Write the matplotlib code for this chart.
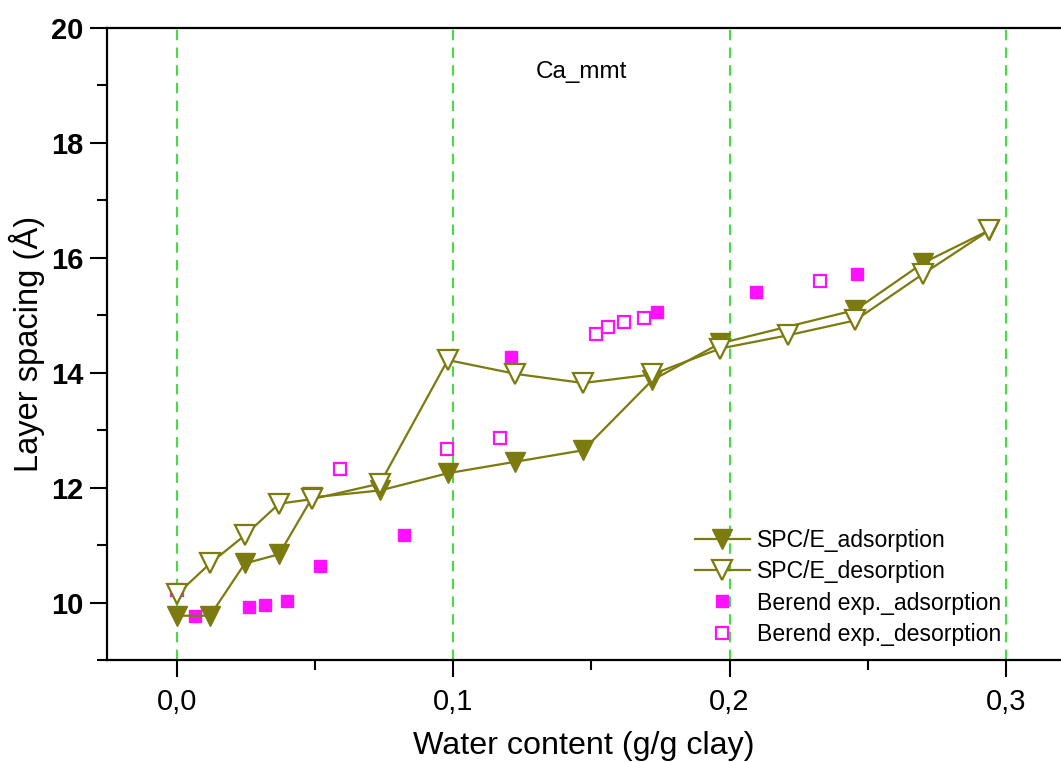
import matplotlib
matplotlib.use("Agg")
import numpy as np
import matplotlib.pyplot as plt
from matplotlib.ticker import MultipleLocator, FuncFormatter

plt.rcParams['font.family'] = ['Liberation Sans', 'DejaVu Sans']

# SPC/E simulation
ads_x = [0.0, 0.012, 0.0246, 0.037, 0.049, 0.0735, 0.098, 0.1225, 0.147, 0.172, 0.1965, 0.2454, 0.27, 0.294]
ads_y = [9.77, 9.77, 10.68, 10.84, 11.83, 11.95, 12.25, 12.45, 12.65, 13.87, 14.51, 15.09, 15.91, 16.48]
des_x = [0.0, 0.012, 0.0246, 0.037, 0.049, 0.0735, 0.098, 0.1225, 0.147, 0.172, 0.1965, 0.221, 0.2454, 0.27, 0.294]
des_y = [10.14, 10.68, 11.17, 11.72, 11.80, 12.07, 14.22, 13.98, 13.82, 13.97, 14.42, 14.65, 14.91, 15.72, 16.48]

# Berend experiments
exp_ads_x = [0.0065, 0.026, 0.0318, 0.040, 0.0518, 0.082, 0.121, 0.1737, 0.2096, 0.246]
exp_ads_y = [9.77, 9.93, 9.96, 10.03, 10.63, 11.18, 14.27, 15.05, 15.40, 15.71]
exp_des_x = [0.0, 0.059, 0.0978, 0.117, 0.1517, 0.156, 0.1618, 0.169, 0.2327]
exp_des_y = [10.22, 12.33, 12.68, 12.87, 14.67, 14.79, 14.88, 14.95, 15.59]

olive = "#7b7b0f"
magenta = "#ff10ff"

fig = plt.figure(figsize=(10.61, 7.62), dpi=100)
ax = fig.add_axes([0.1008, 0.1339, 0.8992, 0.8294])

for gx in [0.0, 0.1, 0.2, 0.3]:
    ax.axvline(gx, color="#44dd44", ls=(0, (5, 3.5)), lw=1.5, zorder=0)

ax.plot(exp_ads_x, exp_ads_y, ls="none", marker="s", ms=9, color=magenta,
        mec=magenta, label="Berend exp._adsorption", zorder=2)
ax.plot(exp_des_x, exp_des_y, ls="none", marker="s", ms=8, mfc="white",
        mec=magenta, mew=1.6, label="Berend exp._desorption", zorder=2)
ax.plot(ads_x, ads_y, color=olive, lw=1.6, marker="v", ms=14, mfc=olive,
        mec=olive, label="SPC/E_adsorption", zorder=3)
ax.plot(des_x, des_y, color=olive, lw=1.6, marker="v", ms=14, mfc="white",
        mec=olive, mew=1.6, label="SPC/E_desorption", zorder=4)

ax.set_xlim(-0.0253, 0.3199)
ax.set_ylim(9, 20)

ax.xaxis.set_major_locator(MultipleLocator(0.1))
ax.xaxis.set_minor_locator(MultipleLocator(0.05))
ax.yaxis.set_major_locator(MultipleLocator(2))
ax.yaxis.set_minor_locator(MultipleLocator(1))
ax.xaxis.set_major_formatter(FuncFormatter(lambda v, p: f"{v:.1f}".replace(".", ",")))

ax.tick_params(which="major", direction="out", length=12, width=1.5, labelsize=21)
ax.tick_params(axis="x", which="major", pad=8)
ax.tick_params(axis="y", which="major", pad=5)
ax.tick_params(which="minor", direction="out", length=7, width=1.5)
ax.tick_params(top=False, right=False, which="both")
for lab in ax.get_yticklabels():
    lab.set_fontweight("bold")

ax.spines["right"].set_visible(False)
for s in ["left", "bottom", "top"]:
    ax.spines[s].set_linewidth(1.6)

ax.set_xlabel("Water content (g/g clay)", fontsize=23.2, labelpad=11)
ax.set_ylabel("Layer spacing (Å)", fontsize=23.5, labelpad=4)

ax.text(0.497, 0.93, "Ca_mmt", transform=ax.transAxes, fontsize=17.5, ha="center", va="center")

h, l = ax.get_legend_handles_labels()
order = [2, 3, 0, 1]
ax.legend([h[i] for i in order], [l[i] for i in order], loc="upper left",
          bbox_to_anchor=(0.646, 0.318), bbox_transform=fig.transFigure,
          frameon=False, fontsize=16.6, handlelength=2.4, handletextpad=0.3,
          labelspacing=0.36, borderaxespad=0)

plt.savefig("out.png", dpi=100)
plt.close()
